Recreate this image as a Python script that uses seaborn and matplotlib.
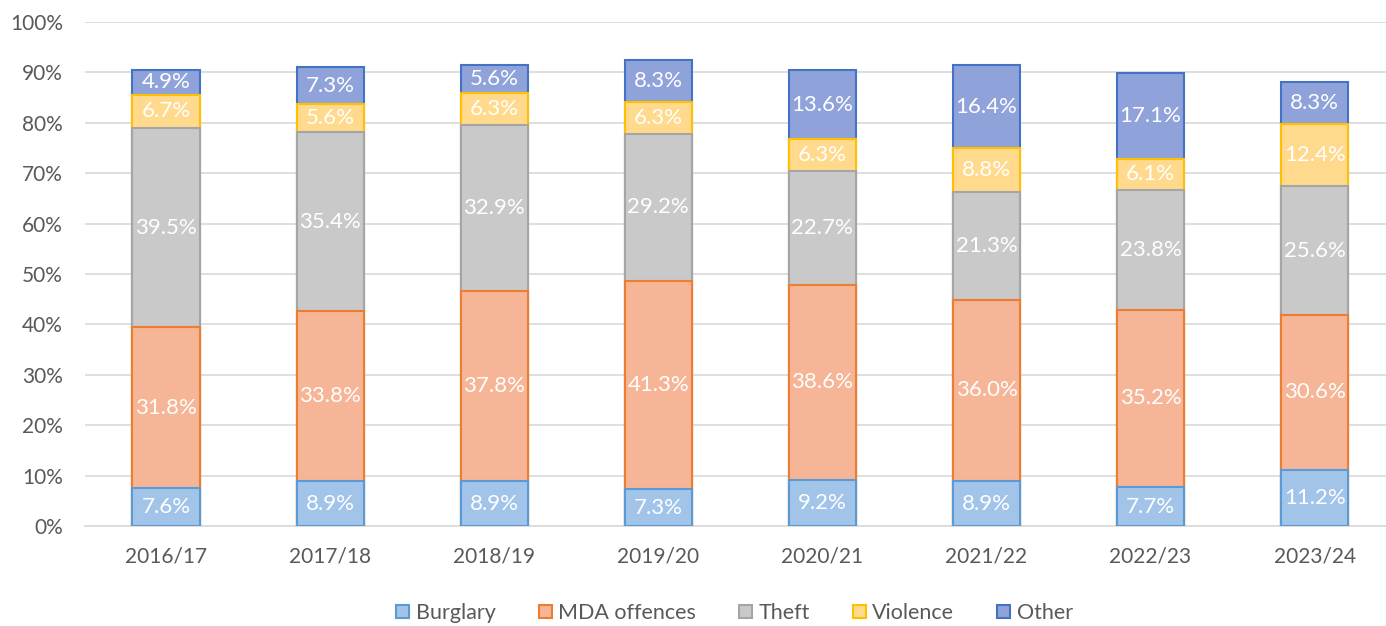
import matplotlib
matplotlib.use("Agg")
import matplotlib.pyplot as plt
from matplotlib.patches import Patch
import pandas as pd
import numpy as np
import seaborn as sns

# data (percent of total)
years = ["2016/17", "2017/18", "2018/19", "2019/20", "2020/21", "2021/22", "2022/23", "2023/24"]
burglary = [7.6, 8.9, 8.9, 7.3, 9.2, 8.9, 7.7, 11.2]
mda = [31.8, 33.8, 37.8, 41.3, 38.6, 36.0, 35.2, 30.6]
theft = [39.5, 35.4, 32.9, 29.2, 22.7, 21.3, 23.8, 25.6]
violence = [6.7, 5.6, 6.3, 6.3, 6.3, 8.8, 6.1, 12.4]
other = [4.9, 7.3, 5.6, 8.3, 13.6, 16.4, 17.1, 8.3]

names = ["Burglary", "MDA offences", "Theft", "Violence", "Other"]
fills = ["#A2C4E9", "#F5B596", "#C9C9C9", "#FFD98C", "#8FA3DA"]
edges = ["#5B9BD5", "#ED7D31", "#A5A5A5", "#FFC000", "#4472C4"]

df = pd.DataFrame({"year": years, "Burglary": burglary, "MDA offences": mda,
                   "Theft": theft, "Violence": violence, "Other": other})

sns.set_style("white")
plt.rcParams["font.family"] = ["Lato", "DejaVu Sans"]

fig = plt.figure(figsize=(13.86, 6.26), dpi=100)
ax = fig.add_axes([85 / 1386, 100 / 626, 1301 / 1386, 504 / 626])

# stacked bars: draw cumulative totals from the top down
cum = df[names].cumsum(axis=1) / 100
for i in range(len(names) - 1, -1, -1):
    sns.barplot(x=df["year"], y=cum[names[i]], color=fills[i], edgecolor=edges[i],
                linewidth=1.5, width=0.41, saturation=1, ax=ax, zorder=3)

# segment labels
for j in range(len(years)):
    base = 0
    for n in names:
        v = df.loc[j, n]
        ax.text(j, (base + v / 2) / 100, f"{v:.1f}%", ha="center", va="center",
                color="white", fontsize=16, zorder=5)
        base += v

ax.set_ylim(0, 1.0)
ax.set_xlim(-0.494, 7.435)
ax.set_yticks(np.arange(0, 1.01, 0.1))
ax.set_yticklabels([f"{int(t)}%" for t in np.arange(0, 101, 10)])
ax.yaxis.grid(True, color="#D9D9D9", linewidth=1.2, zorder=0)
ax.set_axisbelow(True)
ax.set_xlabel("")
ax.set_ylabel("")
for s in ["top", "right", "left"]:
    ax.spines[s].set_visible(False)
ax.spines["bottom"].set_color("#D9D9D9")
ax.spines["bottom"].set_linewidth(1.2)
ax.tick_params(axis="y", length=0, pad=16, labelsize=15, labelcolor="#595959")
ax.tick_params(axis="x", length=0, pad=15, labelsize=15, labelcolor="#595959")

handles = [Patch(facecolor=f, edgecolor=e, linewidth=1.5) for f, e in zip(fills, edges)]
fig.legend(handles, names, loc="center", bbox_to_anchor=(0.53, 13 / 626), ncol=5,
           frameon=False, fontsize=15.5, labelcolor="#595959", handlelength=0.6,
           handleheight=0.6, handletextpad=0.3, columnspacing=2.0)

fig.savefig("out.png", dpi=100)
